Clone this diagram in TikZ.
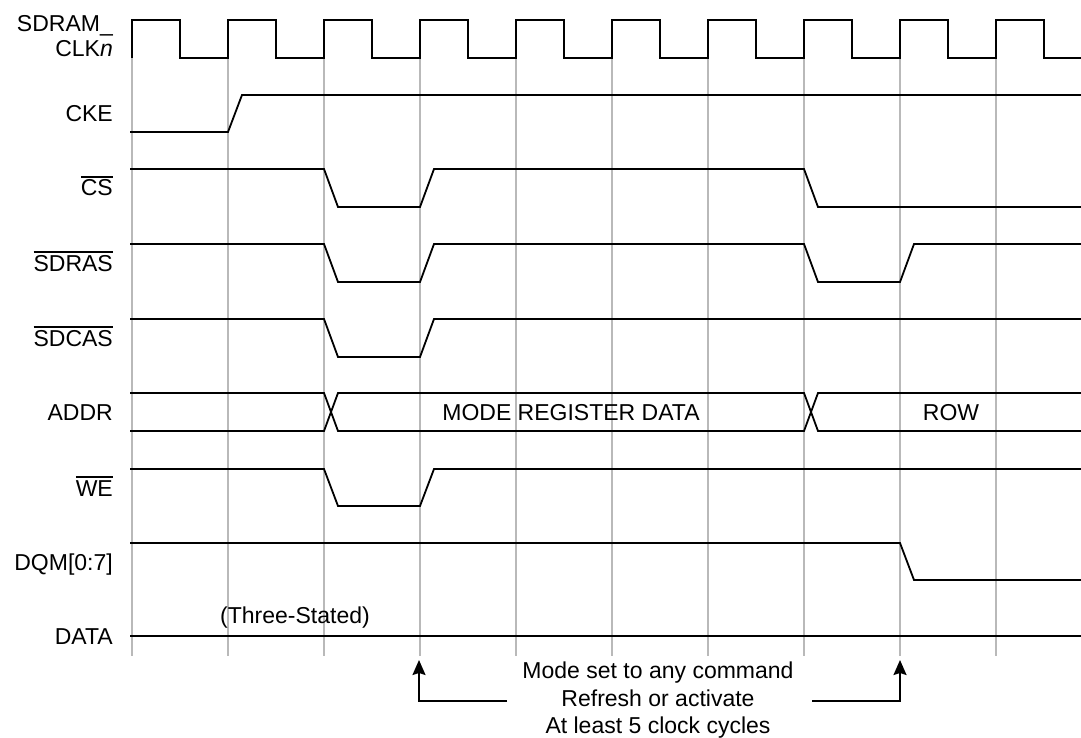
\documentclass[tikz,border=0pt]{standalone}
\usepackage{fontspec}
\setmainfont{Liberation Sans}
\usetikzlibrary{arrows.meta}
\newcommand\ovl[1]{\leavevmode\vbox{\hrule height 1.8pt\kern 2.2pt\hbox{#1}}}
\tikzset{
  sig/.style={line width=1.8pt, line join=miter},
  grid line/.style={line width=1.6pt, color={rgb,255:red,185;green,185;blue,185}},
  lbl/.style={inner sep=0pt, anchor=base east, font=\fontsize{23}{27.5}\selectfont},
  txt/.style={inner sep=0pt, anchor=base, font=\fontsize{23}{27.5}\selectfont},
  note arrow/.style={line width=1.8pt, -{Stealth[length=15pt,width=13pt,inset=2pt]}}
}
\begin{document}
\begin{tikzpicture}[x=1pt,y=-1pt]
\useasboundingbox (0,0) rectangle (1081,738);
% grid
\foreach \i in {0,...,9} {
  \draw[grid line] ({132+96*\i},58) -- ({132+96*\i},656);
}
% labels
\node[lbl] (lclk1) at (113,32) {SDRAM\_};
\node[lbl] (lclk2) at (113,57) {CLK\textit{n}};
\node[lbl] (lcke) at (113,122) {CKE};
\node[lbl] (lcs) at (113,196) {\ovl{CS}};
\node[lbl] (lras) at (113,271) {\ovl{SDRAS}};
\node[lbl] (lcas) at (113,346) {\ovl{SDCAS}};
\node[lbl] (laddr) at (113,420) {ADDR};
\node[lbl] (lwe) at (113,496) {\ovl{WE}};
\node[lbl] (ldqm) at (113,570) {DQM[0:7]};
\node[lbl] (ldata) at (113,644) {DATA};
% clock
\draw[sig] (132,58)
  \foreach \i in {0,...,8} { -- ({132+96*\i},20) -- ({180+96*\i},20) -- ({180+96*\i},58) -- ({228+96*\i},58) }
  -- (996,20) -- (1044,20) -- (1044,58) -- (1081,58);
% CKE
\draw[sig] (130,132) -- (228,132) -- (242,95) -- (1081,95);
% CS
\draw[sig] (130,169) -- (324,169) -- (338,207) -- (420,207) -- (434,169) -- (804,169) -- (818,207) -- (1081,207);
% SDRAS
\draw[sig] (130,244) -- (324,244) -- (338,282) -- (420,282) -- (434,244) -- (804,244) -- (818,282) -- (900,282) -- (914,244) -- (1081,244);
% SDCAS
\draw[sig] (130,319) -- (324,319) -- (338,357) -- (420,357) -- (434,319) -- (1081,319);
% ADDR
\draw[sig] (130,393) -- (324,393) -- (338,431) -- (804,431) -- (818,393) -- (1081,393);
\draw[sig] (130,431) -- (324,431) -- (338,393) -- (804,393) -- (818,431) -- (1081,431);
\node[txt] (mrd) at (571,420) {MODE REGISTER DATA};
\node[txt] (row) at (951,420) {ROW};
% WE
\draw[sig] (130,469) -- (324,469) -- (338,506) -- (420,506) -- (434,469) -- (1081,469);
% DQM
\draw[sig] (130,543) -- (900,543) -- (914,580) -- (1081,580);
% DATA
\draw[sig] (130,636) -- (1081,636);
\node[txt] (three) at (295,623) {(Three-Stated)};
% note
\node[txt] (n1) at (658,678) {Mode set to any command};
\node[txt] (n2) at (658,706) {Refresh or activate};
\node[txt] (n3) at (658,733) {At least 5 clock cycles};
\coordinate (la) at (507,701);
\coordinate (lt) at (419,660);
\coordinate (ra) at (812,701);
\coordinate (rt) at (900,660);
\draw[note arrow] (la) -| (lt);
\draw[note arrow] (ra) -| (rt);
\end{tikzpicture}
\end{document}
